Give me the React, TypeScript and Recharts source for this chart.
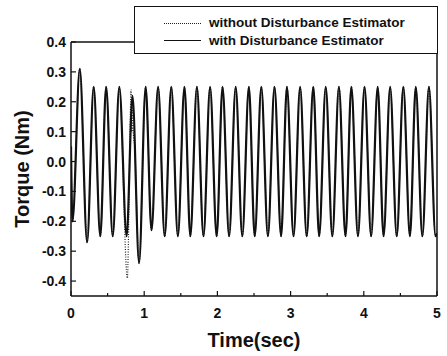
import { LineChart, Line, XAxis, YAxis, ReferenceLine } from "recharts";

// time (sec) and torque (Nm) at the turning points
const withTime = [
  0, 0.02, 0.12, 0.22, 0.31, 0.4, 0.48, 0.57, 0.66, 0.76, 0.84, 0.93, 1.02, 1.1, 1.19, 1.28,
  1.37, 1.46, 1.55, 1.63, 1.72, 1.81, 1.9, 1.99, 2.07, 2.16, 2.25, 2.34, 2.43, 2.51, 2.6, 2.69,
  2.78, 2.87, 2.95, 3.04, 3.13, 3.22, 3.31, 3.39, 3.48, 3.57, 3.66, 3.75, 3.83, 3.92, 4.01, 4.1,
  4.19, 4.27, 4.36, 4.45, 4.54, 4.63, 4.71, 4.8, 4.89, 4.98, 5.0,
];
const withTorque = [
  0.05, -0.2, 0.31, -0.27, 0.25, -0.25, 0.25, -0.25, 0.25, -0.25, 0.22, -0.34, 0.25, -0.23, 0.25, -0.25,
  0.25, -0.25, 0.25, -0.25, 0.25, -0.25, 0.25, -0.25, 0.25, -0.25, 0.25, -0.25, 0.25, -0.25, 0.25, -0.25,
  0.25, -0.25, 0.25, -0.25, 0.25, -0.25, 0.25, -0.25, 0.25, -0.25, 0.25, -0.25, 0.25, -0.25, 0.25, -0.25,
  0.25, -0.25, 0.25, -0.25, 0.25, -0.25, 0.25, -0.25, 0.25, -0.25, -0.24,
];

// the estimator-less run only differs around the disturbance at ~0.8 s
const withoutMidTime = [0.77, 0.81, 0.82, 0.83, 0.84, 0.85, 0.87];
const withoutMidTorque = [-0.39, 0.15, 0.24, 0.1, 0.2, 0.1, 0.05];

const yTicks = [-0.4, -0.35, -0.3, -0.25, -0.2, -0.15, -0.1, -0.05, 0, 0.05, 0.1, 0.15, 0.2, 0.25, 0.3, 0.35, 0.4];
const xTicks = [0, 0.5, 1, 1.5, 2, 2.5, 3, 3.5, 4, 4.5, 5];

const withData = withTime.map((t, i) => ({ t, v: withTorque[i] }));
const withoutData = [
  ...withData.slice(0, 9),
  ...withoutMidTime.map((t, i) => ({ t, v: withoutMidTorque[i] })),
  ...withData.slice(11),
];

const font = "'Liberation Sans', Arial, sans-serif";

const isMajor = (v: number, step: number) => Math.abs(v / step - Math.round(v / step)) < 1e-6;

const YTick = (props: any) => {
  const { x, y, payload } = props;
  const axisX = x + 5;
  const major = isMajor(payload.value, 0.1);
  return (
    <g>
      <line x1={axisX} x2={axisX + (major ? 5 : 3)} y1={y} y2={y} stroke="#111" strokeWidth={1.2} />
      {major && (
        <text x={x} y={y} dy="0.36em" textAnchor="end" fontSize={14} fontWeight="bold" fontFamily={font} fill="#111">
          {payload.value.toFixed(1)}
        </text>
      )}
    </g>
  );
};

const XTick = (props: any) => {
  const { x, y, payload } = props;
  const major = isMajor(payload.value, 1);
  return (
    <g>
      <line x1={x} x2={x} y1={y} y2={y - (major ? 5 : 3)} stroke="#111" strokeWidth={1.2} />
      {major && (
        <text x={x} y={y + 22} textAnchor="middle" fontSize={14} fontWeight="bold" fontFamily={font} fill="#111">
          {payload.value}
        </text>
      )}
    </g>
  );
};

export default function App() {
  return (
    <div style={{ position: "absolute", left: 0, top: 0, width: 447, height: 356, background: "#fff" }}>
      <LineChart width={447} height={356} margin={{ top: 42, right: 10, bottom: 0, left: 0 }}>
        <XAxis
          dataKey="t"
          type="number"
          domain={[0, 5]}
          ticks={xTicks}
          allowDataOverflow
          tickSize={0}
          tickMargin={0}
          tickLine={false}
          tick={<XTick />}
          height={60}
          axisLine={{ stroke: "#111", strokeWidth: 1.5 }}
          label={{
            value: "Time(sec)",
            position: "insideBottom",
            offset: 9,
            style: { fontSize: 20, fontWeight: "bold", fontFamily: font, fill: "#111" },
          }}
        />
        <YAxis
          dataKey="v"
          type="number"
          domain={[-0.45, 0.4]}
          ticks={yTicks}
          allowDataOverflow
          width={71}
          tickSize={0}
          tickMargin={5}
          tickLine={false}
          tick={<YTick />}
          axisLine={{ stroke: "#111", strokeWidth: 1.5 }}
          label={{
            value: "Torque (Nm)",
            angle: -90,
            position: "insideLeft",
            offset: 22,
            style: { textAnchor: "middle", fontSize: 20, fontWeight: "bold", fontFamily: font, fill: "#111" },
          }}
        />
        <ReferenceLine y={0.4} stroke="#111" strokeWidth={1.5} />
        <ReferenceLine x={5} stroke="#111" strokeWidth={1.5} />
        <Line
          data={withoutData}
          dataKey="v"
          type="monotone"
          stroke="#222"
          strokeWidth={1.2}
          strokeDasharray="1 1.5"
          dot={false}
          isAnimationActive={false}
        />
        <Line
          data={withData}
          dataKey="v"
          type="monotone"
          stroke="#111"
          strokeWidth={2.2}
          dot={false}
          isAnimationActive={false}
        />
      </LineChart>
      <div
        style={{
          position: "absolute",
          left: 134,
          top: 6,
          width: 302,
          height: 46,
          border: "1.5px solid #111",
          background: "#fff",
          fontFamily: font,
          fontWeight: "bold",
          fontSize: 13.5,
          color: "#111",
        }}
      >
        <div style={{ position: "absolute", left: 29, top: 16, width: 37, borderTop: "1.2px dotted #222" }} />
        <div style={{ position: "absolute", left: 74, top: 7, lineHeight: "17px" }}>without Disturbance Estimator</div>
        <div style={{ position: "absolute", left: 29, top: 33, width: 37, borderTop: "1.5px solid #111" }} />
        <div style={{ position: "absolute", left: 74, top: 25, lineHeight: "17px" }}>with Disturbance Estimator</div>
      </div>
    </div>
  );
}
